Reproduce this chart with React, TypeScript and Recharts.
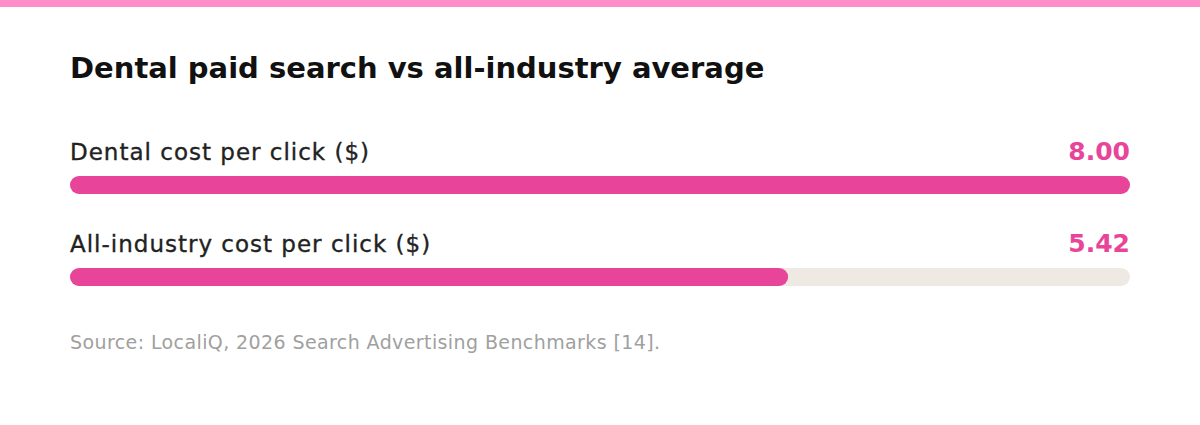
import React from 'react';
import { BarChart, Bar, XAxis, YAxis } from 'recharts';

const categories = ['Dental cost per click ($)', 'All-industry cost per click ($)'];
const values = [8.0, 5.42];
const valueLabels = ['8.00', '5.42'];
const axisMax = 8;

const title = 'Dental paid search vs all-industry average';
const source = 'Source: LocaliQ, 2026 Search Advertising Benchmarks [14].';

const data = categories.map((name, i) => ({ name, value: values[i], label: valueLabels[i] }));

const PINK = '#E8459A';
const TRACK = '#EFE9E4';
const FONT = '"DejaVu Sans", sans-serif';

function BarShape(props: any) {
  const { x, y, width, height, payload, background, value } = props;
  const right = background && background.width ? background.x + background.width : x + (width * axisMax) / (Array.isArray(value) ? value[1] : value);
  return (
    <g>
      <rect x={x} y={y} width={width} height={height} rx={height / 2} ry={height / 2} fill={PINK} />
      <text
        x={x}
        y={y - 16}
        fill="#222222"
        stroke="#222222"
        strokeWidth={0.35}
        fontFamily={FONT}
        fontSize={23}
        fontWeight={400}
        letterSpacing={1}
      >
        {payload.name}
      </text>
      <text x={right} y={y - 16} textAnchor="end" fill={PINK} fontFamily={FONT} fontSize={25} fontWeight={700}>
        {payload.label}
      </text>
    </g>
  );
}

export default function App() {
  return (
    <div style={{ position: 'absolute', left: 0, top: 0, width: 1200, height: 425, background: '#ffffff', overflow: 'hidden' }}>
      <div style={{ position: 'absolute', left: 0, top: 0, width: 1200, height: 7, background: '#FF8DC8' }} />
      <div
        style={{
          position: 'absolute',
          left: 70,
          top: 48,
          fontFamily: FONT,
          fontWeight: 700,
          fontSize: 29,
          color: '#111111',
          lineHeight: '40px',
          whiteSpace: 'nowrap',
        }}
      >
        {title}
      </div>
      <BarChart
        width={1200}
        height={425}
        data={data}
        layout="vertical"
        margin={{ top: 139, right: 70, bottom: 102, left: 70 }}
        barCategoryGap={0}
      >
        <XAxis type="number" domain={[0, axisMax]} hide />
        <YAxis type="category" dataKey="name" hide />
        <Bar
          dataKey="value"
          barSize={18}
          background={{ fill: TRACK, radius: 9 } as any}
          shape={BarShape}
          isAnimationActive={false}
        />
      </BarChart>
      <div
        style={{
          position: 'absolute',
          left: 70,
          top: 329,
          fontFamily: FONT,
          fontWeight: 400,
          fontSize: 19,
          letterSpacing: 0.4,
          color: '#A0A0A0',
          lineHeight: '26px',
          whiteSpace: 'nowrap',
        }}
      >
        {source}
      </div>
    </div>
  );
}
